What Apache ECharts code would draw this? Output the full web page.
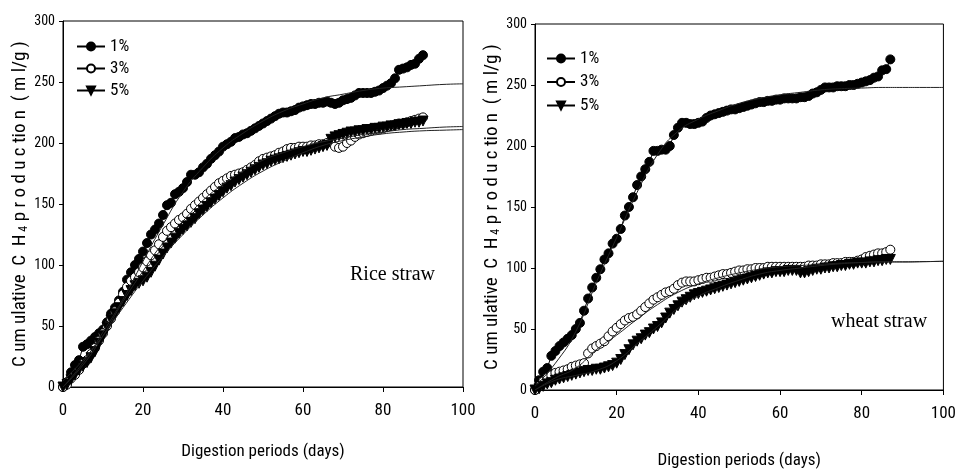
<!DOCTYPE html>
<html>
<head>
<meta charset="utf-8">
<script src="https://cdn.jsdelivr.net/npm/echarts@6/dist/echarts.min.js"></script>
<style>
html,body{margin:0;padding:0;background:#fff;}
#chart{width:959px;height:474px;}
</style>
</head>
<body>
<div id="chart"></div>
<script>
// ---------- DATA ----------
var legendNames = ['1%', '3%', '5%'];
var xTicks = [0, 20, 40, 60, 80, 100];
var yTicks = [0, 50, 100, 150, 200, 250, 300];

// Rice straw: measured daily values, days 0..90
var riceDays = [];
for (var i = 0; i <= 90; i++) riceDays.push(i);
var rice1 = [0,4,12,18,22,33,35,38,41,44,47,53,60,65,71,78,88,94,100,105,111,118,125,129,134,141,149,151,158,160,163,168,174,174,176,180,183,187,190,193,197,199,201,204,205,207,208,210,212,214,216,218,220,222,224,225,225,226,227,229,230,231,232,232,233,233,234,233,232,233,235,236,237,239,241,241,241,241,242,243,245,247,249,253,260,261,262,264,265,269,272];
var rice3 = [0,2,7,10,14,19,22,27,32,38,44,50,56,62,69,76,82,87,90,94,98,103,108,112,117,123,128,131,134,137,139,142,146,149,152,155,158,161,164,167,169,171,173,174,175,176,178,180,182,185,187,188,189,190,192,193,195,196,196,197,197,197,198,198,199,199,200,201,197,196,197,200,202,205,207,208,209,210,211,211,212,213,214,215,216,216,217,218,219,220,221];
var rice5 = [0,2,6,10,14,17,20,24,29,36,42,49,55,60,65,70,75,79,83,85,87,90,94,99,104,109,114,118,122,126,129,132,135,138,142,145,148,151,154,157,160,163,165,168,170,172,174,176,178,180,182,183,185,186,187,188,189,190,191,192,193,193,194,195,196,197,198,203,205,206,207,208,209,209,210,210,211,211,212,212,213,213,214,214,215,215,216,216,217,217,218];

// Rice straw: fitted model curves (read every 5 days)
var fitDays = [0,5,10,15,20,25,30,35,40,45,50,55,60,65,70,75,80,85,90,95,100];
var riceFit1 = [0,20,45,72,103,133,160,180,196,208,218,226,232,237,240,243,245,246,247,248,248.5];
var riceFit3 = [0,18,42,70,95,118,136,153,166,177,186,192,197,201,204,207,209,211,212,213,213.5];
var riceFit5 = [5,22,42,65,87,107,125,141,155,167,177,185,192,198,202,205,207.5,209,210,210.5,211];

// Wheat straw: measured daily values, days 0..87
var wheatDays = [];
for (var j = 0; j <= 87; j++) wheatDays.push(j);
var wheat1 = [0,8,15,18,28,32,36,39,42,45,50,55,65,75,84,92,99,107,112,120,124,132,143,150,158,168,175,181,187,196,196,197,197,200,209,215,219,219,218,218,219,220,223,225,226,227,228,229,230,230,231,232,233,234,235,236,236,237,237,238,238,239,239,239,239,240,240,241,243,244,246,248,248,248,249,249,249,250,250,251,252,253,254,256,257,262,263,271];
var wheat3 = [0,3,7,10,12,14,15,16,17,19,20,21,22,30,34,36,38,40,44,48,51,54,57,59,60,62,65,68,71,74,76,78,80,81,83,86,88,89,89,89,90,91,92,92,93,94,95,95,96,97,98,98,99,99,100,100,100,101,101,101,101,101,101,101,101,101,101,102,102,102,103,103,103,104,104,104,105,105,105,106,107,109,110,111,112,112,113,115];
var wheat5 = [0,1,3,5,6,8,9,10,11,12,13,14,15,16,16,17,17,18,19,20,22,25,29,33,37,40,42,45,47,50,52,55,59,63,66,69,72,74,76,78,79,80,81,82,83,84,85,86,87,88,89,90,91,92,93,94,95,96,96,97,97,97,98,98,98,96,96,97,98,99,99,100,100,101,101,102,102,103,103,104,104,104,105,105,106,106,107,107];

// Wheat straw: fitted model curves (read every 5 days)
var wheatFit1 = [3,22,48,88,125,162,193,212,222,229,235,239,242,244,246,247,247.5,248,248,248,248];
var wheatFit3 = [0,10,18,33,45,58,70,80,87,92,96,99,101,102,103,104,104.5,105,105,105.2,105.5];
var wheatFit5 = [0,8,12,16,24,38,52,67,77,84,90,95,98,100,102,103.5,104.5,105,105,105.2,105.5];

var panelTitles = ['Rice straw', 'wheat straw'];
var axisXName = 'Digestion periods (days)';

// ---------- BUILD ----------
var NARROW = "'Liberation Sans Narrow','Arial Narrow','Roboto Condensed',Roboto,'Liberation Sans',sans-serif";
var SERIF = "'Liberation Serif','Times New Roman',serif";

function pairs(xs, ys) { return xs.map(function (x, k) { return [x, ys[k]]; }); }

var markerStyles = [
  { symbol: 'circle', symbolSize: 9, symbolRotate: 0, itemStyle: { color: '#000', borderColor: '#000', borderWidth: 1 } },
  { symbol: 'circle', symbolSize: 9, symbolRotate: 0, itemStyle: { color: '#fff', borderColor: '#000', borderWidth: 1 } },
  { symbol: 'triangle', symbolSize: 10, symbolRotate: 180, itemStyle: { color: '#000', borderColor: '#000', borderWidth: 1 } }
];

var panels = [
  { days: riceDays, data: [rice1, rice3, rice5], fits: [riceFit1, riceFit3, riceFit5] },
  { days: wheatDays, data: [wheat1, wheat3, wheat5], fits: [wheatFit1, wheatFit3, wheatFit5] }
];

var grids = [
  { left: 63, top: 21, width: 400, height: 366 },
  { left: 535, top: 24, width: 413, height: 372 }
];
grids.forEach(function (g) { g.show = true; g.borderColor = '#000'; g.borderWidth = 1; g.backgroundColor = '#fff'; });

var xAxes = [], yAxes = [], series = [];
var xNameGaps = [56, 62];
panels.forEach(function (p, gi) {
  xAxes.push({
    type: 'value', gridIndex: gi, min: xTicks[0], max: xTicks[xTicks.length - 1], interval: 20,
    name: axisXName, nameLocation: 'middle', nameGap: xNameGaps[gi],
    nameTextStyle: { fontFamily: NARROW, fontSize: 17, color: '#000' },
    axisLine: { lineStyle: { color: '#000', width: 1 } },
    axisTick: { show: true, inside: false, length: 5, lineStyle: { color: '#000' } },
    axisLabel: { fontFamily: NARROW, fontSize: 17, color: '#000', margin: 15 },
    splitLine: { show: false }
  });
  yAxes.push({
    type: 'value', gridIndex: gi, min: yTicks[0], max: yTicks[yTicks.length - 1], interval: 50,
    name: '{a|C um ulative  C  H}{s| 4}{a| p r o d u c tio n  ( m l/g )}',
    nameLocation: 'middle', nameGap: 33, nameRotate: 90,
    nameTextStyle: {
      color: '#000',
      rich: {
        a: { fontFamily: NARROW, fontSize: 19, color: '#000' },
        s: { fontFamily: NARROW, fontSize: 12, color: '#000', verticalAlign: 'bottom', padding: [7, 0, 0, 0] }
      }
    },
    axisLine: { lineStyle: { color: '#000', width: 1 } },
    axisTick: { show: true, inside: false, length: 4, lineStyle: { color: '#000' } },
    axisLabel: { fontFamily: NARROW, fontSize: 14, color: '#000', margin: 8 },
    splitLine: { show: false }
  });

  // measured series
  p.data.forEach(function (vals, si) {
    var m = markerStyles[si];
    series.push({
      name: legendNames[si], type: 'line', xAxisIndex: gi, yAxisIndex: gi,
      data: pairs(p.days, vals),
      symbol: m.symbol, symbolSize: m.symbolSize, symbolRotate: m.symbolRotate,
      showSymbol: true, showAllSymbol: true,
      itemStyle: m.itemStyle,
      lineStyle: { color: '#000', width: 1 },
      z: 2 + si
    });
  });
  // fitted curves
  p.fits.forEach(function (vals, si) {
    series.push({
      name: 'fit' + gi + '_' + si, type: 'line', xAxisIndex: gi, yAxisIndex: gi,
      data: pairs(fitDays, vals), smooth: 0.5,
      showSymbol: false, symbol: 'none',
      lineStyle: { color: '#222', width: 1 },
      z: 6
    });
  });
});

var legendText = { fontFamily: NARROW, fontSize: 17, color: '#000' };
var option = {
  animation: false,
  backgroundColor: '#fff',
  grid: grids,
  xAxis: xAxes,
  yAxis: yAxes,
  legend: [
    { data: legendNames, orient: 'vertical', left: 76, top: 38, itemWidth: 28, itemHeight: 10, itemGap: 5, padding: 0, textStyle: legendText, selectedMode: false },
    { data: legendNames, orient: 'vertical', left: 546, top: 50, itemWidth: 28, itemHeight: 10, itemGap: 6.5, padding: 0, textStyle: legendText, selectedMode: false }
  ],
  graphic: [
    { type: 'text', style: { x: 350, y: 275, text: panelTitles[0], font: '20px ' + SERIF, fill: '#000', verticalAlign: 'middle' }, z: 10 },
    { type: 'text', style: { x: 831, y: 322, text: panelTitles[1], font: '20px ' + SERIF, fill: '#000', verticalAlign: 'middle' }, z: 10 }
  ],
  series: series
};

var chart = echarts.init(document.getElementById('chart'), null, { renderer: 'canvas' });
chart.setOption(option);
</script>
</body>
</html>
